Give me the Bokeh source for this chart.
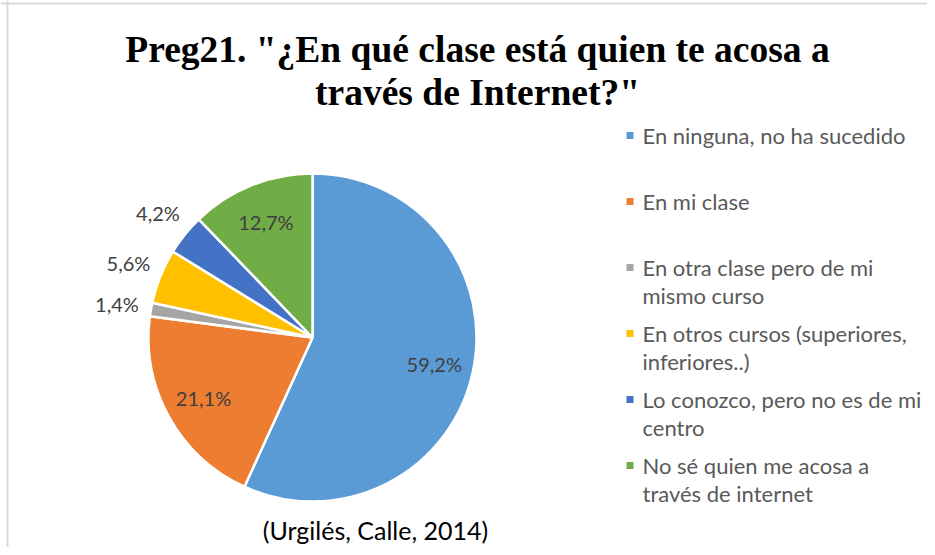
import math
import textwrap
from bokeh.plotting import figure
from bokeh.models import ColumnDataSource, Label, BoxAnnotation, Range1d, Span
from bokeh.embed import file_html
from bokeh.resources import INLINE
from bokeh.core.properties import value

# ---------------- data ----------------
categories = [
    "En ninguna, no ha sucedido",
    "En mi clase",
    "En otra clase pero de mi mismo curso",
    "En otros cursos (superiores, inferiores..)",
    "Lo conozco, pero no es de mi centro",
    "No sé quien me acosa a través de internet",
]
percent_values = [59.2, 21.1, 1.4, 5.6, 4.2, 12.7]
colors = ["#5B9BD5", "#ED7D31", "#A5A5A5", "#FFC000", "#4472C4", "#70AD47"]
title_lines = ['Preg21. "¿En qué clase está quien te acosa a', 'través de Internet?"']
source_text = "(Urgilés, Calle, 2014)"

# ---------------- layout ----------------
W, H = 927, 547
CX, CY, R = 312, 337, 164          # pie centre (px from top-left of canvas) and radius (px)

total = sum(percent_values)
starts, ends, lx, ly, labels = [], [], [], [], []
cum = 0.0
for v in percent_values:
    frac = v / total
    a0 = math.pi / 2 - 2 * math.pi * cum
    cum += frac
    a1 = math.pi / 2 - 2 * math.pi * cum
    starts.append(a0)
    ends.append(a1)
    mid = (a0 + a1) / 2
    r = 0.76 if frac > 0.10 else 1.21
    lx.append(r * math.cos(mid))
    ly.append(r * math.sin(mid))
    labels.append(f"{v:.1f}".replace(".", ",") + "%")

src = ColumnDataSource(dict(cat=categories, val=percent_values, start=starts, end=ends,
                            color=colors, lx=lx, ly=ly, label=labels))

p = figure(width=W, height=H, output_backend="svg", toolbar_location=None,
           x_range=Range1d(-CX / R, (W - CX) / R), y_range=Range1d(-(H - CY) / R, CY / R),
           min_border=0, min_border_left=0, min_border_right=0, min_border_top=0, min_border_bottom=0)
p.axis.visible = False
p.grid.visible = False
p.outline_line_color = None
p.background_fill_color = "white"
p.border_fill_color = "white"

# chart-area border (top and left visible in reference)
p.add_layout(Span(location=(CY - 3) / R, dimension="width", line_color="#D9D9D9", line_width=2))
p.add_layout(Span(location=(7 - CX) / R, dimension="height", line_color="#D9D9D9", line_width=2))

p.wedge(x=0, y=0, radius=1, start_angle="start", end_angle="end", direction="clock",
        fill_color="color", line_color="white", line_width=2.5, source=src)

p.text(x="lx", y="ly", text="label", source=src, text_align="center", text_baseline="middle",
       text_font=value("Lato"), text_font_size="20px", text_color="#404040")

# title
title_y = [H - 49, H - 92]
for line, ty in zip(title_lines, title_y):
    p.add_layout(Label(x=477, y=ty, x_units="screen", y_units="screen", text=line,
                       text_font="Liberation Serif", text_font_style="bold", text_font_size="37.5px",
                       text_color="black", text_align="center", text_baseline="alphabetic"))

# legend (manual, Excel-like)
LEG_X, LEG_Y0, LEG_STEP, LINE_STEP = 626, 135, 66, 28
for i, (cat, col) in enumerate(zip(categories, colors)):
    cy = H - (LEG_Y0 + i * LEG_STEP)
    p.add_layout(BoxAnnotation(left=LEG_X, right=LEG_X + 7, bottom=cy - 3.5, top=cy + 3.5,
                               left_units="screen", right_units="screen",
                               bottom_units="screen", top_units="screen",
                               fill_color=col, fill_alpha=1, line_color=None))
    for j, ln in enumerate(textwrap.wrap(cat, 28)):
        p.add_layout(Label(x=LEG_X + 16, y=cy - j * LINE_STEP, x_units="screen", y_units="screen",
                           text=ln, text_font="Lato", text_font_size="22px", text_color="#595959",
                           text_align="left", text_baseline="middle"))

# source note
p.add_layout(Label(x=375, y=H - 529, x_units="screen", y_units="screen", text=source_text,
                   text_font="Lato", text_font_size="25px", text_color="black",
                   text_align="center", text_baseline="middle"))

open("out.html", "w").write(file_html(p, INLINE))
